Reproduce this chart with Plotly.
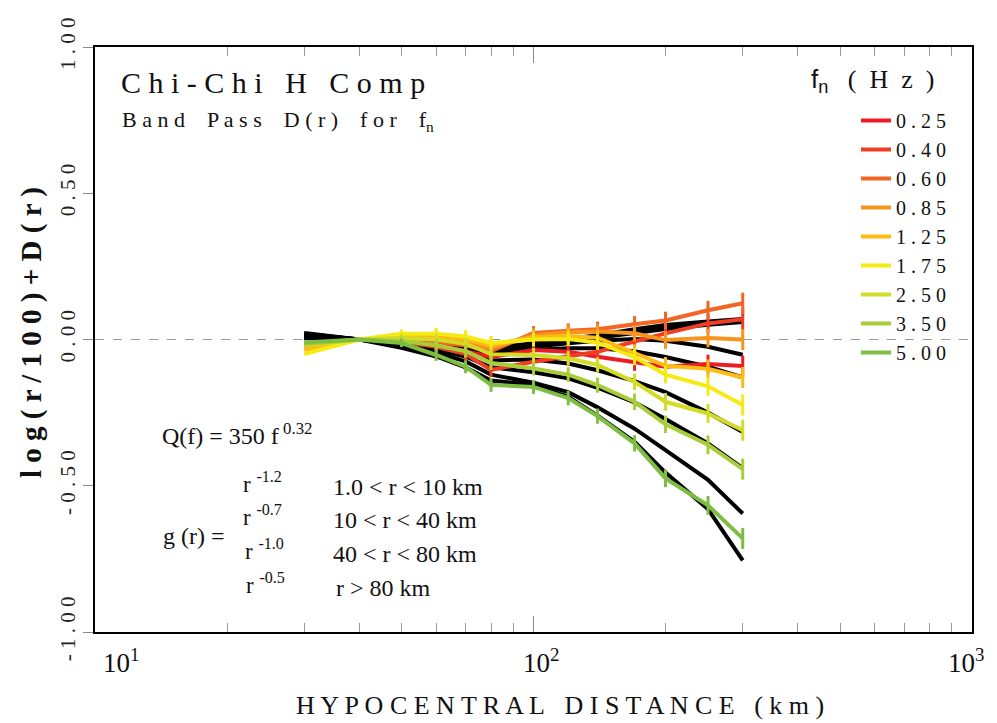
import math
import plotly.graph_objects as go

# ---------------- data ----------------
distance_km = [30, 40, 50, 60, 70, 80, 100, 120, 140, 170, 200, 250, 300]

freq_labels = ["0.25", "0.40", "0.60", "0.85", "1.25", "1.75", "2.50", "3.50", "5.00"]
freq_colors = ["#ED1C24", "#EF3E23", "#F26522", "#F7941D", "#FDBB13",
               "#F5EA14", "#D2DC26", "#A8CD3A", "#7DBE42"]

d_f025 = [-0.015, 0, -0.005, -0.020, -0.040, -0.060, -0.036, -0.042, -0.059, -0.079, -0.093, -0.084, -0.091]
d_f040 = [-0.020, 0, -0.008, -0.025, -0.050, -0.104, -0.076, -0.059, -0.042, -0.007, 0.021, 0.055, 0.069]
d_f060 = [-0.020, 0, 0.000, -0.010, -0.020, -0.040, 0.022, 0.030, 0.035, 0.052, 0.065, 0.100, 0.124]
d_f085 = [-0.025, 0, 0.005, 0.000, -0.010, -0.030, 0.015, 0.025, 0.027, 0.021, -0.002, 0.005, 0.000]
d_f125 = [-0.035, 0, 0.012, 0.012, 0.000, -0.020, 0.008, 0.012, 0.006, -0.045, -0.090, -0.100, -0.130]
d_f175 = [-0.050, 0, 0.020, 0.020, 0.010, -0.012, 0.000, 0.002, -0.010, -0.060, -0.120, -0.160, -0.224]
d_f250 = [-0.020, 0, 0.005, 0.000, -0.015, -0.050, -0.053, -0.064, -0.087, -0.145, -0.213, -0.253, -0.310]
d_f350 = [-0.015, 0, -0.005, -0.020, -0.040, -0.080, -0.099, -0.120, -0.156, -0.213, -0.290, -0.360, -0.443]
d_f500 = [-0.010, 0, -0.012, -0.053, -0.093, -0.155, -0.162, -0.200, -0.262, -0.355, -0.475, -0.567, -0.680]
observed = [d_f025, d_f040, d_f060, d_f085, d_f125, d_f175, d_f250, d_f350, d_f500]

# uncertainty (half length of the vertical bars)
err = [0, 0, 0.014, 0.02, 0.022, 0.024, 0.024, 0.025, 0.026, 0.028, 0.03, 0.032, 0.036]

# model curves (black)
model_a1 = [0.022, 0, -0.006, -0.012, -0.018, -0.030, -0.012, 0.003, 0.015, 0.035, 0.050, 0.062, 0.070]
model_a2 = [0.020, 0, -0.007, -0.014, -0.020, -0.033, -0.016, 0.000, 0.012, 0.030, 0.045, 0.058, 0.066]
model_a3 = [0.018, 0, -0.008, -0.016, -0.023, -0.036, -0.020, -0.006, 0.006, 0.022, 0.036, 0.050, 0.060]
model_b = [0.016, 0, -0.010, -0.020, -0.030, -0.045, -0.025, -0.013, -0.004, 0.002, -0.004, -0.025, -0.052]
model_c = [0.014, 0, -0.012, -0.024, -0.036, -0.055, -0.035, -0.030, -0.030, -0.040, -0.060, -0.093, -0.130]
model_d = [0.010, 0, -0.015, -0.030, -0.045, -0.072, -0.068, -0.082, -0.105, -0.142, -0.180, -0.250, -0.316]
model_e = [0.008, 0, -0.018, -0.036, -0.058, -0.095, -0.112, -0.133, -0.165, -0.215, -0.272, -0.355, -0.440]
model_f = [0.006, 0, -0.022, -0.045, -0.075, -0.120, -0.148, -0.180, -0.232, -0.305, -0.378, -0.480, -0.595]
model_g = [0.004, 0, -0.028, -0.058, -0.095, -0.140, -0.156, -0.196, -0.260, -0.350, -0.455, -0.580, -0.755]
models = [model_a1, model_a2, model_a3, model_b, model_c, model_d, model_e, model_f, model_g]

y_tick_vals = [-1.0, -0.5, 0.0, 0.5, 1.0]
y_tick_text = ["- 1 . 0 0", "- 0 . 5 0", "0 . 0 0", "0 . 5 0", "1 . 0 0"]
x_tick_vals = [10, 100, 1000]
x_tick_text = ["10<sup>1</sup>", "10<sup>2</sup>", "10<sup>3</sup>"]

# ---------------- figure ----------------
SERIF = "Liberation Serif, Times New Roman, serif"
NB = "\u00a0"

fig = go.Figure()

for m in models:
    fig.add_trace(go.Scatter(x=distance_km, y=m, mode="lines",
                             line=dict(color="black", width=4),
                             showlegend=False, hoverinfo="skip"))

for lab, col, vals in zip(freq_labels, freq_colors, observed):
    fig.add_trace(go.Scatter(
        x=distance_km, y=vals, mode="lines",
        line=dict(color=col, width=4),
        error_y=dict(type="data", array=err, visible=True, thickness=3, width=0, color=col),
        name=" ".join(lab)))

fig.add_shape(type="line", xref="paper", x0=0, x1=1, yref="y", y0=0, y1=0,
              line=dict(color="#9a9a9a", width=1, dash="dash"), layer="below")

ann = []
def A(text, px, py, size, xanchor="left", yanchor="middle", **kw):
    ann.append(dict(text=text, xref="paper", yref="paper",
                    x=(px - 95) / 877.0, y=(632 - py) / 585.0,
                    xanchor=xanchor, yanchor=yanchor, showarrow=False,
                    font=dict(family=SERIF, size=size, color="#111"), **kw))

A("C h i - C h i" + NB * 3 + "H" + NB * 3 + "C o m p", 119, 82, 30)
A("B a n d" + NB * 4 + "P a s s" + NB * 4 + "D ( r )" + NB * 4 + "f o r" + NB * 4 + "f<sub>n</sub>", 120, 121, 22)
A("<span style='font-family:Liberation Sans, Arial, sans-serif'>f<sub>n</sub></span>" + NB * 3
  + "(" + NB * 2 + "H" + NB * 2 + "z" + NB * 2 + ")", 809, 80, 26)
A("Q(f) = 350 f<sup> 0.32</sup>", 160, 434, 24)
A("g (r) =", 161, 536, 24)
exps = ["-1.2", "-0.7", "-1.0", "-0.5"]
ranges = ["1.0 &lt; r &lt; 10 km", "10 &lt; r &lt; 40 km", "40 &lt; r &lt; 80 km", "r &gt; 80 km"]
rows_y = [482, 515, 549, 583]
exp_x = [241, 241, 243, 244]
rng_x = [331, 331, 331, 334]
for e, r, yy, ex, rx in zip(exps, ranges, rows_y, exp_x, rng_x):
    A("r <sup>" + e + "</sup>", ex, yy, 23)
    A(r, rx, yy + 5, 24)

# x tick labels
for v, t, dx in zip(x_tick_vals, x_tick_text, [26, 7, -6]):
    ann.append(dict(text=t, xref="x", yref="paper", x=math.log10(v), y=(632 - 661) / 585.0,
                    xshift=dx, xanchor="center", yanchor="middle", showarrow=False,
                    font=dict(family=SERIF, size=27, color="#111")))

# axis titles
A("H Y P O C E N T R A L" + NB * 3 + "D I S T A N C E" + NB * 3 + "( k m )", 560, 705, 26, xanchor="center")
A("<b>l o g ( r / 1 0 0 ) + D ( r )</b>", 31, 333, 29, xanchor="center", textangle=-90)

fig.update_layout(
    width=997, height=723,
    margin=dict(l=95, r=25, t=47, b=91),
    paper_bgcolor="white", plot_bgcolor="white",
    font=dict(family=SERIF, color="#111"),
    annotations=ann,
    showlegend=True,
    legend=dict(x=(856 - 95) / 877.0, y=(632 - 101) / 585.0, xanchor="left", yanchor="top",
                bgcolor="rgba(0,0,0,0)", font=dict(family=SERIF, size=20, color="#111"),
                tracegroupgap=0, itemwidth=30),
    xaxis=dict(type="log", range=[1, 3], showgrid=False, zeroline=False,
               showline=True, linecolor="black", linewidth=2, mirror="allticks",
               ticks="inside", ticklen=16, tickcolor="#888", tickwidth=1,
               tickvals=x_tick_vals, showticklabels=False,
               minor=dict(ticks="inside", ticklen=9, tickcolor="#999", tickwidth=1,
                          tickvals=[20, 30, 40, 50, 60, 70, 80, 90, 200, 300, 400, 500, 600, 700, 800, 900])),
    yaxis=dict(range=[-1, 1], showgrid=False, zeroline=False,
               showline=True, linecolor="black", linewidth=2, mirror=True,
               ticks="outside", ticklen=10, tickcolor="#888", tickwidth=1,
               tickvals=y_tick_vals, ticktext=y_tick_text, tickangle=-90,
               tickfont=dict(family=SERIF, size=21, color="#222")),
)

fig.write_html("out.html")
